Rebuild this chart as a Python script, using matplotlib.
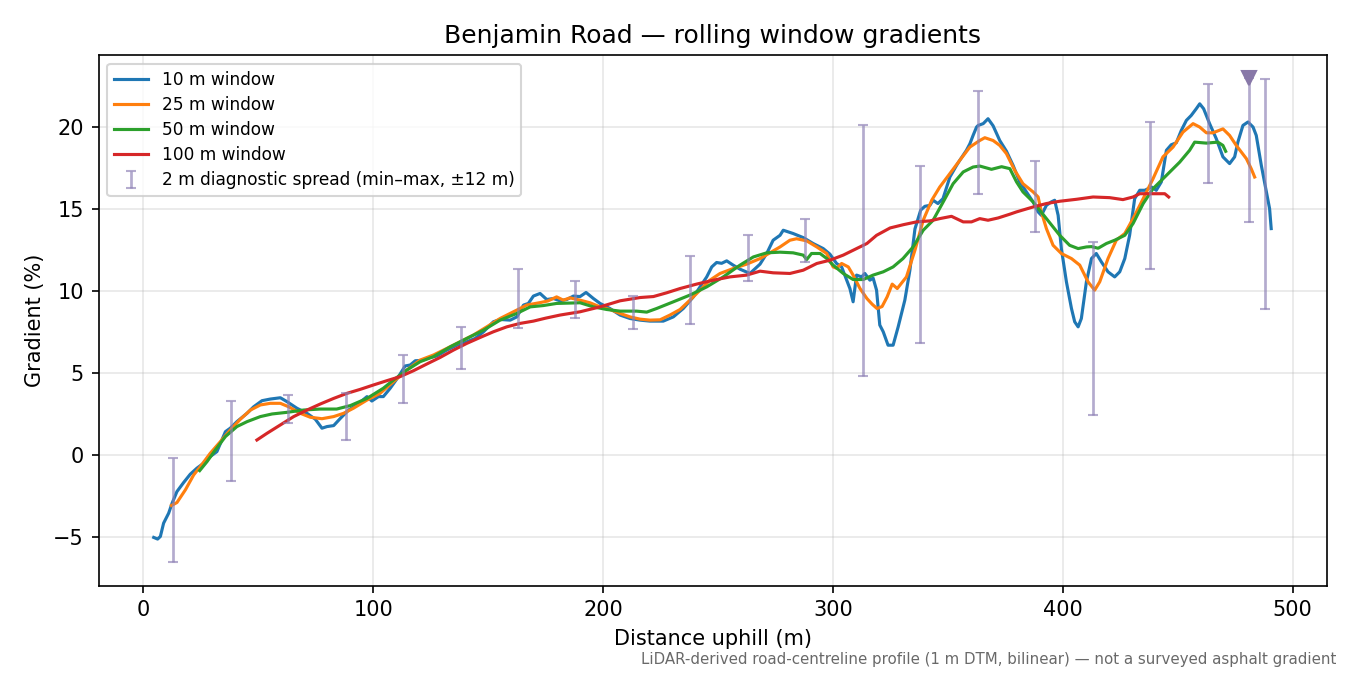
import numpy as np
import matplotlib
matplotlib.use("Agg")
import matplotlib.pyplot as plt

# 10 m rolling window (distance m, gradient %)
d10 = [4.5, 6.2, 7.4, 8.8, 11.0, 12.5, 14.6, 17.5, 20.4, 23.3, 26.2, 29.1, 32.0, 35.7, 37.8,
       40.7, 45.1, 48.0, 51.6, 55.2, 59.6, 62.5, 66.8, 71.2, 74.8, 77.7, 79.9, 82.8, 85.7, 89.3,
       92.9, 97.3, 99.4, 102.3, 104.4, 107.4, 111.0, 113.9, 116.1, 118.3, 121.2, 124.8, 127.7,
       132.0, 136.4, 140.7, 144.3, 148.0, 152.3, 155.2, 159.6, 162.5, 165.4, 167.5, 169.7, 172.6,
       175.5, 178.4, 181.3, 184.2, 187.1, 190.0, 192.6, 195.8, 198.7, 203.0, 207.4, 211.7, 216.1,
       220.4, 226.2, 230.6, 234.9, 239.3, 242.2, 245.1, 247.3, 249.4, 251.6, 253.8, 256.6, 259.6,
       263.9, 268.3, 271.2, 274.0, 277.0, 278.4, 282.7, 287.1, 291.4, 295.8, 298.7, 301.6, 303.8,
       306.0, 307.4, 308.8, 310.3, 312.5, 313.9, 316.1, 317.5, 319.0, 320.4, 321.9, 324.0, 326.2,
       328.4, 331.3, 333.5, 335.7, 338.2, 340.0, 342.2, 343.6, 345.7, 347.9, 350.9, 353.8, 355.2,
       358.1, 359.6, 361.0, 362.5, 363.2, 365.4, 367.5, 369.7, 372.6, 375.5, 378.4, 381.3, 384.2,
       387.1, 389.3, 390.7, 392.9, 395.0, 396.5, 398.0, 399.4, 401.6, 403.8, 405.2, 406.7, 408.1,
       410.3, 412.5, 414.6, 416.8, 419.7, 422.6, 424.8, 427.0, 429.1, 431.3, 433.5, 435.7, 438.6,
       440.7, 442.9, 445.1, 447.2, 449.4, 451.6, 453.8, 455.9, 458.1, 459.6, 461.3, 463.9, 466.8,
       469.7, 472.6, 474.8, 476.2, 478.4, 480.6, 482.8, 484.2, 486.4, 488.6, 490.0, 490.7]
g10 = [-5.04, -5.14, -4.98, -4.17, -3.56, -2.95, -2.24, -1.69, -1.18, -0.81, -0.51, -0.1, 0.2, 1.42, 1.63,
       2.03, 2.54, 2.94, 3.31, 3.41, 3.49, 3.25, 2.85, 2.54, 2.18, 1.63, 1.73, 1.79, 2.23, 2.74,
       3.05, 3.56, 3.29, 3.56, 3.56, 4.07, 4.78, 5.43, 5.49, 5.75, 5.77, 5.95, 6.04,
       6.4, 6.7, 6.91, 7.11, 7.52, 8.13, 8.27, 8.23, 8.43, 9.15, 9.25, 9.7, 9.86,
       9.49, 9.55, 9.41, 9.49, 9.7, 9.67, 9.92, 9.55, 9.25, 8.94, 8.54, 8.33, 8.23,
       8.17, 8.17, 8.43, 8.94, 9.65, 10.26, 10.87, 11.48, 11.75, 11.7, 11.85, 11.59, 11.34,
       11.08, 11.65, 12.3, 13.11, 13.41, 13.72, 13.52, 13.27, 12.91, 12.6, 12.26, 11.69, 11.48,
       10.67, 10.16, 9.35, 10.98, 10.87, 11.08, 10.67, 10.8, 10.06, 7.93, 7.52, 6.7, 6.7,
       7.82, 9.45, 11.28, 13.8, 14.95, 15.18, 15.24, 15.55, 15.35, 15.65, 16.97, 17.68, 17.99,
       18.6, 19.0, 19.51, 20.02, 20.12, 20.23, 20.53, 20.1, 19.2, 18.55, 17.68, 16.67, 16.06,
       15.45, 14.84, 14.63, 15.24, 15.45, 15.55, 14.63, 12.6, 10.57, 8.94, 8.13, 7.82, 8.33,
       10.57, 11.99, 12.3, 11.79, 11.18, 10.87, 11.18, 11.99, 13.41, 15.65, 16.16, 16.16, 16.36,
       16.16, 16.67, 18.6, 18.94, 19.06, 19.82, 20.43, 20.73, 21.14, 21.44, 21.14, 20.23, 19.31,
       18.2, 17.79, 18.2, 19.1, 20.12, 20.33, 20.02, 19.51, 17.68, 16.06, 15.04, 13.82]

# 25 m rolling window
d25 = [12.2, 14.6, 18.3, 21.9, 24.8, 29.1, 33.5, 37.8, 42.2, 46.6, 50.9, 55.2, 59.6, 63.2, 68.3,
       72.6, 77.7, 82.8, 87.1, 91.4, 97.3, 103.0, 108.8, 114.6, 120.4, 126.2, 132.0, 137.8, 143.6,
       149.4, 155.2, 161.0, 166.8, 172.6, 176.0, 179.8, 182.7, 185.6, 190.0, 194.3, 198.7, 203.0,
       207.4, 211.7, 216.1, 220.4, 224.8, 229.1, 233.5, 237.8, 242.2, 246.5, 250.9, 256.6, 262.5,
       268.3, 272.6, 277.0, 281.3, 284.2, 288.6, 293.0, 297.3, 300.1, 301.6, 303.8, 306.7, 308.8,
       311.8, 314.8, 317.1, 319.2, 321.4, 323.6, 325.8, 328.0, 332.0, 335.7, 339.3, 343.0, 346.5,
       350.9, 355.2, 359.6, 363.9, 366.1, 369.7, 372.6, 375.5, 379.1, 382.7, 387.1, 389.3, 390.7,
       392.9, 395.8, 399.4, 403.8, 407.4, 411.0, 413.9, 416.1, 419.7, 423.3, 427.0, 430.6, 435.0,
       439.3, 443.6, 448.0, 452.3, 456.7, 459.6, 462.5, 465.4, 469.7, 472.6, 475.5, 479.9, 482.0, 483.5]
g25 = [-3.09, -2.91, -2.13, -1.22, -0.71, 0.1, 0.81, 1.52, 2.18, 2.74, 3.05, 3.15, 3.15, 2.94, 2.54,
       2.3, 2.21, 2.34, 2.54, 2.85, 3.35, 3.76, 4.47, 5.18, 5.79, 6.1, 6.5, 6.91, 7.32,
       7.82, 8.33, 8.74, 9.15, 9.3, 9.4, 9.65, 9.45, 9.59, 9.45, 9.29, 9.04, 8.88,
       8.64, 8.43, 8.29, 8.23, 8.25, 8.54, 8.88, 9.45, 10.06, 10.67, 11.08, 11.38, 11.65,
       11.99, 12.34, 12.7, 13.11, 13.2, 13.07, 12.7, 12.3, 11.48, 11.4, 11.69, 11.48, 10.98,
       10.16, 9.55, 9.2, 8.94, 9.06, 9.65, 10.43, 10.16, 10.87, 12.5, 14.33, 15.55, 16.36,
       17.18, 17.99, 18.8, 19.2, 19.37, 19.2, 18.9, 18.4, 17.38, 16.56, 16.06, 15.75, 14.84,
       13.82, 12.8, 12.3, 11.99, 11.59, 10.57, 10.06, 10.57, 11.99, 13.11, 13.52, 14.43, 15.65,
       16.87, 18.2, 18.8, 19.71, 20.23, 20.02, 19.67, 19.67, 19.91, 19.51, 18.9, 18.09, 17.48, 16.97]

# 50 m rolling window
d50 = [24.5, 27.7, 31.3, 35.7, 40.7, 45.1, 50.9, 56.0, 62.5, 69.7, 76.9, 84.1, 90.0, 97.3, 104.4,
       108.8, 114.6, 120.4, 126.2, 133.5, 140.7, 148.0, 155.2, 162.5, 168.3, 174.0, 179.8, 190.0,
       195.8, 201.6, 207.4, 214.6, 219.0, 223.3, 230.6, 237.8, 245.1, 252.3, 259.6, 265.4, 271.2,
       277.0, 282.7, 287.1, 288.6, 290.7, 294.4, 297.3, 300.1, 304.5, 308.8, 313.2, 317.5, 321.9,
       326.2, 330.5, 334.9, 339.3, 343.6, 348.0, 352.3, 356.7, 361.0, 363.9, 369.0, 373.4, 377.0,
       379.9, 382.7, 387.1, 392.9, 398.7, 403.0, 406.7, 410.3, 412.5, 415.4, 419.0, 422.6, 427.0,
       430.6, 435.0, 439.3, 445.1, 450.9, 455.2, 457.4, 462.5, 467.5, 469.7, 470.9]
g50 = [-0.96, -0.41, 0.3, 1.12, 1.73, 2.03, 2.34, 2.5, 2.6, 2.74, 2.8, 2.8, 3.01, 3.45, 4.07,
       4.57, 5.18, 5.69, 6.0, 6.6, 7.11, 7.62, 8.23, 8.64, 9.04, 9.12, 9.25, 9.29,
       9.04, 8.88, 8.78, 8.78, 8.72, 8.94, 9.35, 9.76, 10.26, 10.87, 11.59, 12.09, 12.34,
       12.38, 12.34, 12.2, 11.93, 12.3, 12.3, 12.0, 11.59, 11.08, 10.71, 10.71, 10.98, 11.18,
       11.48, 11.99, 12.7, 13.72, 14.33, 15.45, 16.56, 17.28, 17.58, 17.64, 17.44, 17.6, 17.48,
       16.67, 16.06, 15.45, 14.43, 13.41, 12.8, 12.6, 12.7, 12.72, 12.62, 12.91, 13.11, 13.41,
       14.13, 15.35, 16.26, 17.07, 17.88, 18.6, 19.1, 19.04, 19.1, 18.9, 18.54]

# 100 m rolling window
d100 = [49.4, 53.8, 59.6, 65.4, 71.2, 77.0, 82.8, 88.6, 94.3, 100.1, 105.9, 111.7, 117.5, 123.3,
        129.1, 134.9, 140.7, 146.5, 152.3, 158.1, 163.9, 169.7, 175.0, 181.3, 190.0, 198.7, 207.4,
        216.1, 221.9, 227.7, 233.5, 240.7, 248.0, 255.2, 262.5, 268.3, 274.0, 281.3, 287.1, 293.0,
        298.7, 304.5, 310.3, 314.8, 319.0, 324.9, 330.7, 336.4, 342.2, 346.5, 351.6, 356.7, 360.3,
        363.9, 367.5, 371.9, 377.0, 379.9, 387.1, 392.9, 398.7, 406.0, 413.2, 420.4, 426.2, 430.6,
        433.5, 439.3, 444.4, 446.1]
g100 = [0.91, 1.32, 1.83, 2.34, 2.74, 3.11, 3.45, 3.76, 4.0, 4.27, 4.53, 4.78, 5.14, 5.55,
        5.95, 6.4, 6.81, 7.17, 7.52, 7.82, 8.03, 8.17, 8.35, 8.54, 8.74, 9.04, 9.41,
        9.61, 9.67, 9.9, 10.16, 10.43, 10.67, 10.87, 10.98, 11.22, 11.12, 11.08, 11.28, 11.69,
        11.89, 12.2, 12.6, 12.91, 13.41, 13.86, 14.06, 14.23, 14.29, 14.43, 14.57, 14.23, 14.23,
        14.43, 14.33, 14.47, 14.7, 14.84, 15.14, 15.35, 15.49, 15.61, 15.75, 15.71, 15.59, 15.75,
        15.95, 15.95, 15.95, 15.75]

# 2 m diagnostic spread (min / max within +-12 m)
spread_x = [13, 38, 63, 88, 113, 138, 163, 188, 213, 238, 263, 288, 313, 338, 363, 388, 413,
            438, 463, 481, 488]
spread_lo = [-6.55, -1.57, 1.93, 0.91, 3.19, 5.26, 7.76, 8.37, 7.66, 7.97, 10.63, 11.79, 4.84,
             6.81, 15.91, 13.62, 2.44, 11.36, 16.6, 14.23, 8.9]
spread_hi = [-0.16, 3.29, 3.66, 3.8, 6.1, 7.82, 11.34, 10.63, 9.71, 12.13, 13.41, 14.39, 20.12,
             17.62, 22.2, 17.95, 13.0, 20.33, 22.68, 23.0, 22.93]

# steepest 2 m point
peak_x = [481]
peak_y = [23.0]

fig, ax = plt.subplots(figsize=(9, 4.5), dpi=150)
fig.subplots_adjust(left=0.073, right=0.983, top=0.918, bottom=0.132)

ax.plot(d10, g10, color="tab:blue", lw=1.5, label="10 m window")
ax.plot(d25, g25, color="tab:orange", lw=1.5, label="25 m window")
ax.plot(d50, g50, color="tab:green", lw=1.5, label="50 m window")
ax.plot(d100, g100, color="tab:red", lw=1.5, label="100 m window")

lo = np.array(spread_lo)
hi = np.array(spread_hi)
mid = (lo + hi) / 2
ax.errorbar(spread_x, mid, yerr=[mid - lo, hi - mid], fmt="none", ecolor="#8c7fb4",
            elinewidth=1.3, capsize=2.5, alpha=0.65,
            label="2 m diagnostic spread (min\u2013max, \u00b112 m)")
ax.plot(peak_x, peak_y, "v", color="#8878a8", ms=6.5, zorder=5)

ax.set_xlim(-19.5, 515)
ax.set_ylim(-8.0, 24.4)
ax.grid(True, alpha=0.3)
ax.set_xlabel("Distance uphill (m)")
ax.set_ylabel("Gradient (%)")
ax.set_title("Benjamin Road \u2014 rolling window gradients")
ax.legend(loc="upper left", fontsize=8.2, labelspacing=0.42)

fig.text(0.99, 0.012, "LiDAR-derived road-centreline profile (1 m DTM, bilinear) \u2014 not a surveyed asphalt gradient",
         ha="right", va="bottom", fontsize=7.2, color="dimgray")

fig.savefig("out.png", dpi=150)
